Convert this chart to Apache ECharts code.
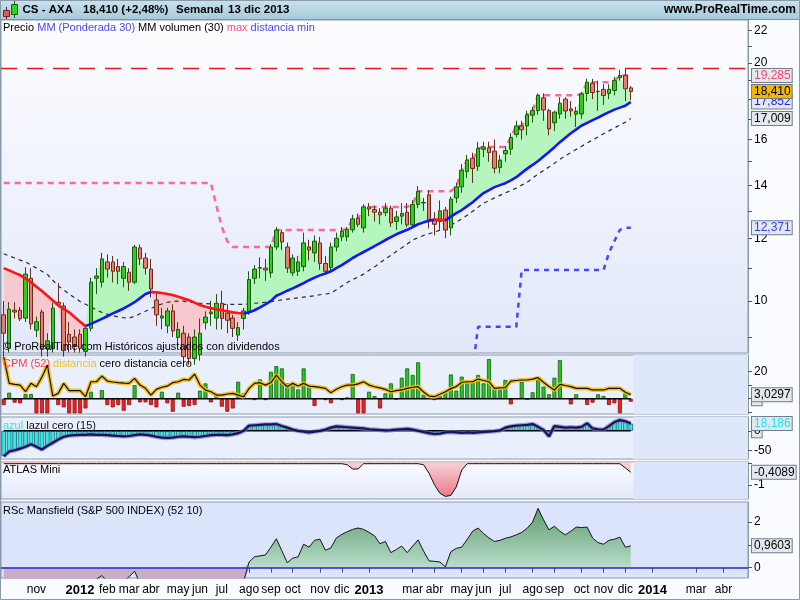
<!DOCTYPE html>
<html><head><meta charset="utf-8">
<script src="https://cdn.jsdelivr.net/npm/echarts@6/dist/echarts.min.js"></script>
<style>html,body{margin:0;padding:0;background:#fff}#c{width:800px;height:600px}</style>
</head><body><div id="c"></div>
<script>
// ---------------- DATA ----------------
const firstWeek = '2011-09-30';
const weekCount = 137; // weekly slots on the time axis (data + empty future)
// weekly candles [open, close, low, high]
const candles = [
[9.6,9.1,8.5,10.0],[8.71,9.76,8.6,9.96],[9.73,9.68,9.5,9.96],[9.73,9.49,9.43,9.82],[9.51,10.81,9.4,11.03],
[10.68,9.35,9.2,11.0],[9.18,9.41,9.0,9.55],[9.68,8.7,8.5,9.75],[8.7,8.9,8.5,9.1],[8.7,9.79,8.6,9.95],
[9.96,9.9,9.82,10.53],[9.85,8.65,8.5,9.95],[9.07,8.87,8.6,9.4],[9.0,8.78,8.6,9.2],[9.07,8.71,8.6,9.2],
[8.63,9.23,8.5,9.3],[9.23,10.56,9.15,10.7],[10.68,10.75,10.2,11.0],[10.56,11.3,10.4,11.5],[11.2,10.97,10.7,11.45],
[11.2,10.9,10.55,11.4],[11.05,10.9,10.5,11.3],[10.68,11.05,10.4,11.2],[10.87,10.56,10.3,11.0],[10.56,11.7,10.5,11.77],
[11.67,11.3,11.1,11.78],[11.33,11.0,10.8,11.5],[10.97,10.35,10.1,11.3],[10.02,9.6,9.3,10.2],[9.51,9.57,9.2,9.8],
[9.3,9.71,9.1,9.8],[9.71,9.16,9.0,9.9],[8.99,9.2,8.8,9.4],[9.1,8.5,8.3,9.3],[9.0,8.45,8.3,9.1],
[8.45,9.0,8.3,9.2],[8.55,9.1,8.4,9.5],[9.38,9.54,9.2,9.7],[9.63,9.68,9.3,10.0],[9.51,9.93,9.2,10.2],
[9.93,9.5,9.2,10.3],[9.65,9.45,9.1,9.9],[9.51,9.23,9.0,9.6],[9.05,9.25,8.9,9.4],[9.5,9.71,9.2,9.8],
[9.7,10.64,9.6,10.9],[10.68,10.97,10.5,11.1],[11.0,11.02,10.68,11.35],[11.0,10.94,10.6,11.3],[10.85,11.7,10.7,11.8],
[11.7,12.29,11.6,12.4],[12.2,11.87,11.6,12.3],[11.7,11.0,10.85,11.85],[10.85,11.33,10.75,11.45],[10.9,11.2,10.75,11.4],
[11.05,11.84,10.9,12.2],[11.7,11.6,11.25,11.95],[11.5,11.9,11.2,12.1],[11.84,11.15,10.95,12.05],[11.15,10.9,10.8,11.4],
[11.02,11.7,10.9,11.85],[11.7,12.0,11.55,12.2],[12.05,12.25,11.9,12.4],[12.05,12.32,11.9,12.4],[12.3,12.7,12.2,12.85],
[12.72,12.5,12.4,12.9],[12.37,13.15,12.2,13.25],[13.15,13.07,12.8,13.3],[13.05,12.95,12.6,13.2],[12.95,12.85,12.5,13.1],
[12.93,13.1,12.8,13.3],[13.1,12.55,12.4,13.2],[12.6,12.77,12.3,13.0],[12.8,12.9,12.5,13.3],[12.95,12.48,12.4,13.3],
[12.48,13.24,12.4,13.41],[13.24,13.76,13.1,13.97],[13.3,13.32,13.0,13.5],[13.62,12.67,12.35,13.8],[12.67,12.5,12.1,12.95],
[12.6,13.0,12.3,13.4],[13.03,12.29,12.0,13.15],[12.37,13.45,12.1,13.55],[13.5,13.94,13.3,14.1],[13.94,14.63,13.7,14.9],
[14.58,15.07,14.3,15.3],[15.15,14.71,14.1,15.4],[14.8,15.59,14.6,15.9],[15.55,15.66,15.2,15.9],[15.62,15.4,15.0,15.9],
[15.47,14.72,14.5,16.0],[14.75,15.07,14.5,15.3],[15.35,15.5,15.0,15.7],[15.56,16.1,15.3,16.3],[16.24,16.65,16.1,16.9],
[16.65,16.46,16.0,16.9],[16.65,17.2,16.2,17.4],[17.18,17.41,16.8,17.6],[17.41,18.2,17.2,18.3],[18.07,17.44,16.9,18.3],
[17.41,16.5,16.2,17.5],[16.8,17.33,16.4,17.4],[17.24,17.79,17.0,18.1],[18.0,17.39,17.0,18.1],[17.5,17.4,17.1,17.9],
[17.23,17.38,16.6,17.6],[17.24,18.28,17.0,18.4],[18.3,18.91,17.9,19.1],[18.86,18.35,18.0,19.1],[18.4,18.42,17.4,19.0],
[18.52,18.19,17.7,18.8],[18.3,18.52,18.0,18.8],[18.46,19.0,18.2,19.2],[19.16,19.285,19.0,19.6],[19.285,18.55,17.9,19.7],
[18.6,18.41,17.95,18.7]
];
// MM (Ponderada 30)
const wma30 = [
11.00,10.93,10.85,10.78,10.67,10.56,10.42,10.29,10.15,10.01,
9.87,9.77,9.67,9.54,9.41,9.29,9.35,9.42,9.49,9.56,
9.64,9.71,9.78,9.87,9.96,10.08,10.20,10.26,10.25,10.23,
10.20,10.17,10.12,10.07,10.02,9.95,9.88,9.83,9.79,9.76,
9.73,9.70,9.67,9.65,9.64,9.67,9.73,9.81,9.90,10.00,
10.15,10.22,10.30,10.37,10.45,10.53,10.62,10.70,10.77,10.83,
10.90,11.00,11.10,11.21,11.33,11.43,11.53,11.63,11.73,11.83,
11.94,12.04,12.14,12.22,12.30,12.40,12.50,12.57,12.63,12.67,
12.66,12.65,12.78,12.91,13.03,13.18,13.33,13.51,13.69,13.81,
13.93,14.01,14.09,14.21,14.34,14.52,14.70,14.86,15.03,15.23,
15.43,15.65,15.88,16.09,16.30,16.48,16.67,16.80,16.93,17.06,
17.20,17.33,17.46,17.56,17.66,17.852];
// MM volumen (30)
const volMA30 = [
11.47,11.40,11.33,11.26,11.20,11.10,11.00,10.90,10.80,10.62,
10.45,10.32,10.20,10.09,9.98,9.90,9.82,9.74,9.67,9.62,
9.58,9.54,9.52,9.51,9.56,9.63,9.70,9.78,9.85,9.91,
9.96,9.98,9.99,9.99,9.97,9.95,9.93,9.92,9.91,9.90,
9.90,9.90,9.90,9.90,9.90,9.91,9.93,9.94,9.96,9.98,
10.00,10.03,10.05,10.07,10.09,10.11,10.13,10.15,10.18,10.20,
10.23,10.33,10.44,10.55,10.64,10.72,10.81,10.93,11.04,11.17,
11.30,11.42,11.55,11.67,11.80,11.94,12.02,12.10,12.16,12.22,
12.29,12.38,12.47,12.57,12.70,12.83,12.98,13.14,13.29,13.39,
13.50,13.60,13.70,13.79,13.89,14.01,14.13,14.30,14.47,14.62,
14.77,14.93,15.10,15.26,15.40,15.55,15.69,15.84,15.98,16.12,
16.27,16.41,16.55,16.69,16.83,17.009];
// max (52)
const maxLine = [
14.1,14.1,14.1,14.1,14.1,14.1,14.1,14.1,14.1,14.1,
14.1,14.1,14.1,14.1,14.1,14.1,14.1,14.1,14.1,14.1,
14.1,14.1,14.1,14.1,14.1,14.1,14.1,14.1,14.1,14.1,
14.1,14.1,14.1,14.1,14.1,14.1,14.1,14.1,14.1,13.2,
12.4,11.9,11.7,11.7,11.7,11.7,11.7,11.7,11.7,11.7,
12.29,12.29,12.29,12.29,12.29,12.29,12.29,12.29,12.29,12.29,
12.29,12.29,12.29,12.32,12.7,12.7,13.15,13.15,13.15,13.15,
13.15,13.15,13.15,13.15,13.15,13.24,13.76,13.76,13.76,13.76,
13.76,13.76,13.76,13.94,14.63,15.07,15.07,15.59,15.66,15.66,
15.66,15.66,15.66,16.1,16.65,16.65,17.2,17.41,18.2,18.2,
18.2,18.2,18.2,18.2,18.2,18.2,18.28,18.91,18.91,18.91,
18.91,18.91,19.0,19.285,19.285,19.285];
// min (52): below the visible range before week 86
const minLine = Array(86).fill(null).concat([
8.2,9.27,9.27,9.27,9.27,9.27,9.27,9.27,9.27,
10.94,10.94,10.94,10.94,10.94,10.94,10.94,10.94,10.94,10.94,10.94,10.94,10.94,10.94,10.94,10.94,
11.5,11.9,12.3,12.371,12.371]);
const highLevel = 19.7;
// CPM (52) histogram and "distancia" line
const cpmHist = [
-4.7,4.5,-2.9,-3.4,3.5,3.5,-10.8,-10.8,-10.8,0,
-4.7,-6.4,-10.8,-10.8,-10.8,-7.2,5.2,0,6.4,-4.7,
-6.4,-4.7,-8.9,-4.7,10.1,-2.7,-2.7,-4.7,-6.4,5.2,
-3.4,-9.6,4.5,-5.9,-5.4,-4.7,6.0,11.4,-2.7,4.0,
-5.9,-9.6,-7.2,12.6,4.0,0,-1.0,14.3,-1.0,20.0,
24.2,22.5,11.4,10.6,6.9,22.5,10.1,-5.4,0,-1.0,
-3.4,0,-1.0,1.0,18.3,-10.8,-10.8,5.2,2.0,-7.2,
4.0,11.4,-0.5,15.6,22.5,17.6,27.0,3,0,-1,
2,5,18,6,16.4,12.6,13.1,17.6,11.4,29.4,
7.7,6.5,13.9,-4.2,0,12.6,-0.5,4.8,13.9,9,
3.3,15.6,28.7,0,-4.2,3.3,0,-4.6,-2.9,3.3,
2,-4.7,-3.4,-10.8,4,-2.2];
const cpmLine = [
31,11.4,10.6,10.1,5.2,11.4,8.9,16,25,2.0,
4.0,11.4,6.0,6.0,6.0,1.5,12.6,12.6,16.8,13.1,
12.4,11.9,11.6,11.4,15.1,10.1,7.7,2.7,6.9,8.5,
9.4,11.9,12.6,14.3,13.9,18.3,10.1,6.4,5.2,2.7,
2.7,3.5,4.0,2.7,1.5,7.7,11.4,11.9,10.1,12,
17.5,12.6,8.9,11.4,9.4,11.4,9.4,9.0,8.4,7.7,
4.5,7,8.9,10.1,10.1,11.0,12.6,10.1,8.9,8.0,
6.9,5.2,6.0,6.5,7.7,8.5,9.0,5.0,2.0,1.5,
3.3,5.2,7.5,9.0,12.2,12.6,12.6,14.6,13.5,12.6,
7.7,8.0,8.2,13.1,13.5,13.9,13.9,14.5,15.6,12.2,
9,6.5,10.7,9.8,9,7.7,7.7,7.7,6.5,6.5,
6.5,7.7,7.7,7.7,4.8,3.0297];
// azul lazul (15)
const azul = [
-64,-52,-49,-45,-40,-34,-40,-47,-38,-30,
-22,-15,-12,-11,-10,-10,-9,-10,-10,-11,
-12,-13,-14,-13,-11,-9,-10,-12,-15,-17,
-18,-17,-15,-14,-15,-16,-15,-13,-11,-10,
-10,-11,-9,-6,0,13,14,15,16,16,
17,12,8,3,0,-2,-4,-2,0,3,
8,11,10,9,8,7,6,4,3,2,
1,1.7,3,4,5,3,0,-3,-6,-8,
-7,-4,-3,-4,-5,-4,-5,-4,-3,-2,
-1,1,8,11,13,14,15,17,10,2,
-14,12,10,8,9,8,10,19,6,4,
3,12,22,27,24,18.186];
// ATLAS Mini
const atlas = [
0,0,0,0,0,0,0,0,0,0, 0,0,0,0,0,0,0,0,0,0, 0,0,0,0,0,0,0,0,0,0,
0,0,0,0,0,0,0,0,0,0, 0,0,0,0,0,0,0,0,0,0, 0,0,0,0,0,0,0,0,0,0,
0,0,0,-0.05,-0.25,-0.25,0,0,0,0,
0,0,0,0,0,0,0,-0.05,-0.45,-1.0,
-1.4,-1.55,-1.5,-1.1,-0.3,0,0,0,0,0,
0,0,0,0,0,0,0,0,0,0, 0,0,0,0,0,0,0,0,0,0,
0,0,0,0,-0.2,-0.4089];
// RSc Mansfield (S&P 500 INDEX) (52 10)
const mansfield = [
-0.9,-0.95,-1.0,-0.95,-0.9,-0.95,-1.0,-1.05,-1.0,-0.95,
-0.9,-0.95,-1.0,-0.95,-0.9,-0.8,-0.7,-0.5,-0.34,-0.6,
-0.8,-0.75,-0.6,-0.4,-0.15,-0.7,-0.9,-1.0,-1.05,-1.1,
-1.1,-1.0,-0.95,-1.0,-1.05,-1.0,-0.95,-0.9,-0.9,-0.85,
-0.85,-0.8,-0.8,-0.75,-0.6,0.25,0.48,0.52,0.56,0.9,
1.27,0.75,0.22,0.42,0.48,1.03,0.9,1.2,1.25,0.76,
0.87,1.3,1.46,1.58,1.68,1.74,1.68,1.55,1.4,1.05,
1.15,0.66,0.8,0.95,0.66,0.95,1.22,0.73,0.3,0.28,
0.25,0.04,0.7,0.85,0.9,1.24,1.6,1.74,1.5,1.3,
1.15,1.2,1.29,1.35,1.44,1.55,1.73,2.0,2.6,2.1,
1.66,1.82,1.6,1.44,1.6,1.78,1.76,1.78,1.3,1.1,
1.03,1.2,1.25,1.34,0.9,0.9603];
// time axis tick labels (week slot -> text)
const tickWeeks  = [6,14,19,23,27,32,36,40,45,49,53,58,62,67,75,79,84,88,92,97,101,106,110,114,119,127,132];
const tickLabels = ['nov','2012','feb','mar','abr','may','jun','jul','ago','sep','oct','nov','dic','2013','mar','abr','may','jun','jul','ago','sep','oct','nov','dic','2014','mar','abr'];
// y-axis ticks / labels
const priceTicks = [9,10,11,12,13,14,15,16,17,18,19,20,21,22];
const priceLabels = [10,12,14,16,18,20,22];

// ---------------- BUILD ----------------
const FONT = '"Liberation Sans", Arial, sans-serif';
const weeks = [];
{ const t0 = Date.parse(firstWeek + 'T00:00:00Z');
  for (let k = 0; k < weekCount; k++) weeks.push(new Date(t0 + k * 7 * 86400000).toISOString().slice(0, 10)); }
const tickSet = new Set(tickWeeks);
const n = candles.length;
const closes = candles.map(c => c[1]);
const fillBase = closes.map((c, i) => Math.min(c, wma30[i]));
const fillUp = closes.map((c, i) => Math.max(c - wma30[i], 0));
const fillDown = closes.map((c, i) => Math.max(wma30[i] - c, 0));
const zeros = closes.map(() => 0);
const fmt = (v, d) => v.toFixed(d).replace('.', ',');
const last = a => a[a.length - 1];

// MA colour by slope
const RED = '#ff1414', BLUE = '#1414ff';
const pieces = [];
{ let start = 0, dir = Math.sign(wma30[1] - wma30[0]);
  for (let i = 2; i < n; i++) {
    let d = Math.sign(wma30[i] - wma30[i - 1]); if (d === 0) d = dir;
    if (d !== dir) { pieces.push({ s: start, e: i - 1, dir }); start = i - 1; dir = d; }
  }
  pieces.push({ s: start, e: n - 1, dir }); }
const vmPieces = pieces.map((p, k) => Object.assign(k === 0 ? { gte: p.s } : { gt: p.s }, { lte: p.e, color: p.dir < 0 ? RED : BLUE }));

const BORDER = '#8a9aaa';
const grids = [
  { top: 20, height: 333, bg: new echarts.graphic.LinearGradient(0, 0, 0, 1, [{ offset: 0, color: '#fdfdff' }, { offset: 1, color: '#e2e8fa' }]) },
  { top: 355, height: 59, bg: '#eaeffc' },
  { top: 417, height: 42, bg: '#eaeffc' },
  { top: 462, height: 37, bg: new echarts.graphic.LinearGradient(0, 0, 0, 1, [{ offset: 0, color: '#fbfcff' }, { offset: 1, color: '#e3e9fb' }]) },
  { top: 502, height: 76, bg: '#dbe4fa' }
];

const HIDDEN_LINE = { color: 'rgba(0,0,0,0)', width: 1, opacity: 1 };
function tagItem(value, text, color, bg) {
  return { yAxis: value, lineStyle: HIDDEN_LINE,
    label: { show: true, position: 'end', distance: 4, formatter: text, color: color, opacity: 1, backgroundColor: bg || '#e3e8ee',
      borderColor: '#6d7d8d', borderWidth: 1, padding: [1, 1, 0, 2], fontSize: 12, fontFamily: FONT, lineHeight: 12 } };
}
function tag(value, text, color, bg, z) {
  return { silent: true, symbol: ['none', 'none'], z: z || 5, animation: false, data: [tagItem(value, text, color, bg)] };
}
function futureBg(g, color) {
  return { type: 'custom', xAxisIndex: g, yAxisIndex: g, silent: true, z: 1, clip: false,
    data: [[n - 1, 0]],
    renderItem: (params, api) => {
      const cs = params.coordSys;
      const p = api.coord([api.value(0), api.value(1)]);
      const x0 = p[0] + api.size([1, 0])[0] / 2;
      return { type: 'rect', shape: { x: x0, y: cs.y, width: cs.x + cs.width - x0, height: cs.height }, style: { fill: color } };
    } };
}
const axisCommon = {
  position: 'right',
  axisLine: { show: true, lineStyle: { color: BORDER } },
  splitLine: { show: false }
};
function yAx(g, min, max, ticks, labels, type) {
  return Object.assign({}, axisCommon, {
    type: type || 'value', gridIndex: g, min: min, max: max, logBase: 10,
    axisTick: { show: true, length: 4, lineStyle: { color: '#555' }, customValues: ticks },
    axisLabel: { show: true, customValues: labels, fontSize: 12, color: '#000', fontFamily: FONT, margin: 6,
      formatter: v => String(v).replace('.', ',') }
  });
}

const series = [];
// main panel
series.push({ type: 'line', xAxisIndex: 0, yAxisIndex: 0, data: fillBase, stack: 'fill', symbol: 'none', silent: true, lineStyle: { opacity: 0 }, z: 1 });
series.push({ type: 'line', xAxisIndex: 0, yAxisIndex: 0, data: fillUp, stack: 'fill', symbol: 'none', silent: true, lineStyle: { opacity: 0 }, areaStyle: { color: '#b2f5ba', opacity: 0.95 }, z: 1 });
series.push({ type: 'line', xAxisIndex: 0, yAxisIndex: 0, data: fillDown, stack: 'fill', symbol: 'none', silent: true, lineStyle: { opacity: 0 }, areaStyle: { color: '#f6c7cb', opacity: 0.95 }, z: 1 });
series.push({ type: 'line', xAxisIndex: 0, yAxisIndex: 0, data: volMA30, symbol: 'none', silent: true, z: 2,
  lineStyle: { color: '#2a2a2a', width: 1.2, type: [4, 4] }, markLine: tag(last(volMA30), fmt(last(volMA30), 3), '#000', '#e3e8ee', 5) });
series.push({ type: 'line', xAxisIndex: 0, yAxisIndex: 0, data: maxLine, symbol: 'none', silent: true, z: 2,
  lineStyle: { color: '#ff4f82', width: 2.5, type: [6, 5], opacity: 0.85 },
  markLine: { silent: true, symbol: ['none', 'none'], z: 5, animation: false,
    data: [{ yAxis: highLevel, lineStyle: { color: '#e8141e', width: 1.3, type: [16, 10] }, label: { show: false } },
           tagItem(last(maxLine), fmt(last(maxLine), 3), '#ff3f6f', '#e3e8ee')] } });
series.push({ type: 'line', xAxisIndex: 0, yAxisIndex: 0, data: minLine, symbol: 'none', silent: true, z: 2, connectNulls: false,
  lineStyle: { color: '#4646ff', width: 2.5, type: [5, 5] }, markLine: tag(last(minLine), fmt(last(minLine), 3), '#3a3aff', '#e3e8ee', 5) });
const wmaIndex = series.length;
series.push({ type: 'line', xAxisIndex: 0, yAxisIndex: 0, data: wma30, symbol: 'none', silent: true, z: 4,
  lineStyle: { width: 2.6 }, markLine: tag(last(wma30), fmt(last(wma30), 3), '#2020ff', '#e3e8ee', 6) });
series.push({ type: 'candlestick', xAxisIndex: 0, yAxisIndex: 0, data: candles, barWidth: 4, silent: true, z: 3,
  itemStyle: { color: '#2ecf12', color0: '#e87d6d', borderColor: '#1b5a0e', borderColor0: '#6a2c1a', borderWidth: 1 },
  markLine: tag(last(closes), fmt(last(closes), 3), '#000', '#f2b705', 7) });

// CPM panel
series.push(futureBg(1, '#dfe7fb'));
series.push({ type: 'bar', xAxisIndex: 1, yAxisIndex: 1, data: cpmHist.map(v => v > 0 ? v : '-'), barWidth: 4, barGap: '-100%', silent: true, z: 2,
  itemStyle: { color: '#24c81e', borderColor: '#156010', borderWidth: 0.8 } });
series.push({ type: 'bar', xAxisIndex: 1, yAxisIndex: 1, data: cpmHist.map(v => v < 0 ? v : '-'), barWidth: 4, barGap: '-100%', silent: true, z: 2,
  itemStyle: { color: '#ee2222', borderColor: '#8a1010', borderWidth: 0.8 } });
series.push({ type: 'line', xAxisIndex: 1, yAxisIndex: 1, data: zeros, symbol: 'none', silent: true, z: 3,
  lineStyle: { color: '#000', width: 1.4 }, markLine: tag(0, '0', '#000', '#e3e8ee', 5) });
series.push({ type: 'line', xAxisIndex: 1, yAxisIndex: 1, data: cpmLine, symbol: 'none', silent: true, z: 4,
  lineStyle: { color: '#f5bd12', width: 4.2, opacity: 0.9 } });
series.push({ type: 'line', xAxisIndex: 1, yAxisIndex: 1, data: cpmLine, symbol: 'none', silent: true, z: 5,
  lineStyle: { color: '#111', width: 1.2 }, markLine: tag(last(cpmLine), fmt(last(cpmLine), 4), '#000', '#e3e8ee', 6) });

// azul panel
series.push(futureBg(2, '#dfe7fb'));
series.push({ type: 'bar', xAxisIndex: 2, yAxisIndex: 2, data: azul, barWidth: 4.6, silent: true, z: 2,
  itemStyle: { color: '#33e8e8', borderColor: '#0f6674', borderWidth: 0.8 } });
series.push({ type: 'line', xAxisIndex: 2, yAxisIndex: 2, data: zeros, symbol: 'none', silent: true, z: 3,
  lineStyle: { color: '#000', width: 1.4 }, markLine: tag(0, '0', '#000', '#e3e8ee', 5) });
series.push({ type: 'line', xAxisIndex: 2, yAxisIndex: 2, data: azul, symbol: 'none', silent: true, z: 4,
  lineStyle: { color: '#7c7cb4', width: 4.5, opacity: 0.7 } });
series.push({ type: 'line', xAxisIndex: 2, yAxisIndex: 2, data: azul, symbol: 'none', silent: true, z: 5,
  lineStyle: { color: '#14145e', width: 2.2 }, markLine: tag(last(azul), fmt(last(azul), 3), '#22e4f0', '#e3e8ee', 6) });

// ATLAS panel
series.push(futureBg(3, '#dbe4fb'));
series.push({ type: 'line', xAxisIndex: 3, yAxisIndex: 3, data: atlas, symbol: 'none', silent: true, z: 3,
  lineStyle: { color: '#111', width: 1 },
  areaStyle: { origin: 'end', color: new echarts.graphic.LinearGradient(0, 0, 0, 1, [{ offset: 0, color: '#f6c0c8' }, { offset: 1, color: '#ee4a5a' }]) },
  markLine: tag(last(atlas), fmt(last(atlas), 4), '#000', '#e3e8ee', 6) });

// RSc Mansfield panel
series.push({ type: 'line', xAxisIndex: 4, yAxisIndex: 4, data: mansfield.map(v => Math.min(v, 0)), symbol: 'none', silent: true, z: 2,
  lineStyle: { opacity: 0 }, areaStyle: { color: '#c7aec8', opacity: 1 } });
series.push({ type: 'line', xAxisIndex: 4, yAxisIndex: 4, data: mansfield.map(v => Math.max(v, 0)), symbol: 'none', silent: true, z: 2,
  lineStyle: { opacity: 0 }, areaStyle: { opacity: 1, color: new echarts.graphic.LinearGradient(0, 0, 0, 1, [{ offset: 0, color: '#5f9d6e' }, { offset: 1, color: '#b9dccb' }]) } });
series.push({ type: 'line', xAxisIndex: 4, yAxisIndex: 4, data: mansfield, symbol: 'none', silent: true, z: 4,
  lineStyle: { color: '#151515', width: 1 },
  markLine: { silent: true, symbol: ['none', 'none'], z: 5, animation: false,
    data: [{ yAxis: 0, lineStyle: { color: '#2626d6', width: 1.5, type: 'solid' }, label: { show: false } },
           tagItem(last(mansfield), fmt(last(mansfield), 4), '#000', '#e3e8ee')] } });

const xAxes = grids.map((g, k) => {
  const bottom = k === grids.length - 1;
  return {
    type: 'category', gridIndex: k, data: weeks, boundaryGap: true,
    axisLine: { show: false }, splitLine: { show: false },
    axisTick: bottom ? { show: true, interval: i => tickSet.has(i), alignWithLabel: true, length: 5, lineStyle: { color: '#555' } } : { show: false },
    axisLabel: bottom ? { show: true, interval: i => tickSet.has(i), margin: 6, fontSize: 12, color: '#000', fontFamily: FONT,
      formatter: (v, i) => { const t = tickLabels[tickWeeks.indexOf(i)] || ''; return /^\d{4}$/.test(t) ? '{y|' + t + '}' : t; },
      rich: { y: { fontWeight: 'bold', fontSize: 13, fontFamily: FONT, color: '#000' } } } : { show: false }
  };
});

const yAxes = [
  yAx(0, 8.59, 22.67, priceTicks, priceLabels, 'log'),
  yAx(1, -11.3, 32.4, [20, 10, 0, -10], [20]),
  yAx(2, -71, 34.8, [0, -50], [-50]),
  yAx(3, -1.67, 0.08, [0, -1], [-1]),
  yAx(4, -0.45, 2.88, [0, 1, 2], [0, 2])
];

const F11 = '11px ' + FONT, B11 = 'bold 11.5px ' + FONT;
const txt = (x, y, text, rich, font, align) => ({ type: 'text', x: x, y: y, z: 100, silent: true,
  style: { text: text, rich: rich || undefined, font: font || F11, fill: '#000', verticalAlign: 'middle', align: align || 'left' } });

const graphic = [
  { type: 'rect', z: 90, silent: true, shape: { x: 0, y: 0, width: 800, height: 20 },
    style: { fill: new echarts.graphic.LinearGradient(0, 0, 0, 1, [{ offset: 0, color: '#c9e2ee' }, { offset: 1, color: '#a5c9db' }]) } },
  { type: 'line', z: 91, silent: true, shape: { x1: 0, y1: 19.5, x2: 800, y2: 19.5 }, style: { stroke: '#7896a8', lineWidth: 1 } },
  // icon
  { type: 'line', z: 92, silent: true, shape: { x1: 6.5, y1: 7, x2: 6.5, y2: 19 }, style: { stroke: '#6a2020', lineWidth: 1 } },
  { type: 'rect', z: 93, silent: true, shape: { x: 3.5, y: 10.5, width: 6, height: 6 }, style: { fill: '#e05a5a', stroke: '#7a2020', lineWidth: 1 } },
  { type: 'line', z: 92, silent: true, shape: { x1: 14.5, y1: 1, x2: 14.5, y2: 18 }, style: { stroke: '#1d5a10', lineWidth: 1 } },
  { type: 'rect', z: 93, silent: true, shape: { x: 11.5, y: 4.5, width: 6, height: 10 }, style: { fill: '#2fd21a', stroke: '#1d5a10', lineWidth: 1 } },
  txt(22.5, 10, 'CS - AXA', null, B11),
  txt(83, 10, '18,410 (+2,48%)', null, B11),
  txt(176, 10, 'Semanal', null, B11),
  txt(228, 10, '13 dic 2013', null, B11),
  txt(796, 10, 'www.ProRealTime.com', null, 'bold 12px ' + FONT, 'right'),
  txt(3, 28, '{k|Precio }{b|MM (Ponderada 30)}{k| MM volumen (30) }{p|max}{b| distancia min}', {
    k: { fill: '#000', font: F11 }, b: { fill: '#4848f0', font: F11 }, p: { fill: '#ff4f82', font: F11 } }),
  txt(3, 346.5, '© ProRealTime.com Históricos ajustados con dividendos'),
  txt(3, 363.5, '{r|CPM (52)}{o| distancia}{k| cero distancia cero}', {
    r: { fill: '#ff4040', font: F11 }, o: { fill: '#f0c020', font: F11 }, k: { fill: '#000', font: F11 } }),
  txt(3, 425.5, '{c|azul}{k| lazul cero (15)}', { c: { fill: '#22e6f0', font: F11 }, k: { fill: '#0c0c30', font: F11 } }),
  txt(3, 470, 'ATLAS Mini'),
  txt(3, 510.5, 'RSc Mansfield (S&P 500 INDEX) (52 10)'),
  { type: 'rect', z: 95, silent: true, shape: { x: 0.5, y: 0.5, width: 799, height: 599 }, style: { fill: 'none', stroke: '#8a9aaa', lineWidth: 1 } }
];

const option = {
  animation: false,
  backgroundColor: '#fafbfe',
  textStyle: { fontFamily: FONT },
  grid: grids.map(g => ({ left: 1, right: 52, top: g.top, height: g.height, show: true, borderColor: BORDER, borderWidth: 1, backgroundColor: g.bg, containLabel: false })),
  xAxis: xAxes,
  yAxis: yAxes,
  visualMap: [{ type: 'piecewise', show: false, seriesIndex: wmaIndex, dimension: 0, pieces: vmPieces, outOfRange: { color: BLUE } }],
  series: series,
  graphic: graphic
};
const chart = echarts.init(document.getElementById('c'), null, { width: 800, height: 600 });
chart.setOption(option);
</script></body></html>
